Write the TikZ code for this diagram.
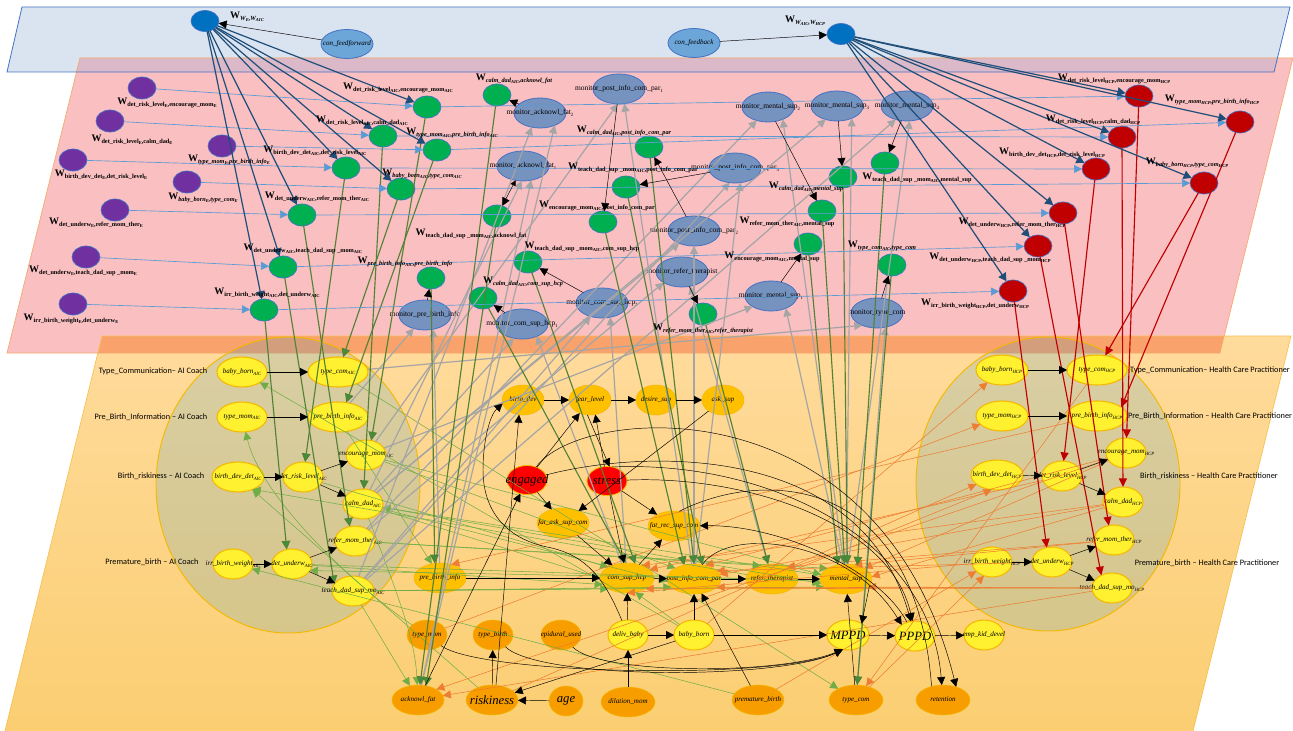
\documentclass[tikz,border=0pt]{standalone}
\usepackage{fontspec}
\setmainfont{Liberation Serif}
\newfontfamily\sidefont{Carlito}
\usetikzlibrary{shapes.geometric,arrows.meta}
\definecolor{cBluePl}{HTML}{DAE3F0}
\definecolor{cBlueLn}{HTML}{4472C4}
\definecolor{cRedPl}{HTML}{F9BFC1}
\definecolor{cOverA}{HTML}{DBB9C9}
\definecolor{cOverB}{HTML}{F9A26C}
\definecolor{cPlLn}{HTML}{F4A96A}
\definecolor{cYelLn}{HTML}{F7C04F}
\definecolor{cYTop}{HTML}{FFDB9C}
\definecolor{cYBot}{HTML}{FBCE72}
\definecolor{cGold}{HTML}{F5B800}
\definecolor{cBig}{HTML}{0089DC}
\definecolor{cDkBlue}{HTML}{0070C0}
\definecolor{cFeed}{HTML}{6CA5D8}
\definecolor{cPurple}{HTML}{7030A0}
\definecolor{cGreen}{HTML}{00B050}
\definecolor{cRedN}{HTML}{C00000}
\definecolor{cMon}{HTML}{7692BE}
\definecolor{cYel}{HTML}{FFF12F}
\definecolor{cAmb}{HTML}{FFC000}
\definecolor{cOrg}{HTML}{F79D00}
\definecolor{eDkBlue}{HTML}{1F4E79}
\definecolor{eLtBlue}{HTML}{5B9BD5}
\definecolor{eDkGreen}{HTML}{548235}
\definecolor{eTipGreen}{HTML}{3F8F3F}
\definecolor{eGray}{HTML}{A5A5A5}
\definecolor{eThinG}{HTML}{70AD47}
\definecolor{eThinO}{HTML}{ED7D31}
\newcommand\sbs[1]{\raisebox{-0.25ex}{\fontsize{3.4}{4}\selectfont #1}}
\newcommand\WL[1]{{\fontsize{7.5}{8}\selectfont\bfseries W\raisebox{-0.5ex}{\fontsize{4.7}{5}\selectfont #1}}}
\newcommand\WI[1]{{\fontsize{7.5}{8}\selectfont\bfseries W\raisebox{-0.5ex}{\fontsize{4.7}{5}\selectfont\itshape #1}}}
\newcommand\nsb[1]{\raisebox{-0.45ex}{\fontsize{3.6}{4}\selectfont #1}}
\newcommand\nt[2]{\makebox[0pt][c]{\itshape #1\nsb{#2}}}
\newcommand\bigt[1]{\makebox[0pt][c]{\fontsize{9.5}{10}\selectfont\itshape #1}}
\newcommand\mon[2]{\makebox[0pt][c]{\fontsize{5.6}{6}\selectfont #1\nsb{#2}}}
\tikzset{
 ov/.style 2 args={ellipse,inner sep=0pt,outer sep=0pt,minimum width=#1*1.5pt,minimum height=#2*1.5pt,font=\fontsize{5.3}{6}\selectfont},
 nWt/.style={ov={14}{10.5},fill=cDkBlue,draw=cBlueLn,line width=.5pt},
 nFeed/.style={ov={26}{14.5},fill=cFeed,draw=cBlueLn,line width=.6pt},
 nPur/.style={ov={14}{11},fill=cPurple,draw=cBlueLn,line width=.5pt},
 nGrn/.style={ov={14}{11},fill=cGreen,draw=cBlueLn,line width=.5pt},
 nRed/.style={ov={14}{11},fill=cRedN,draw=cBlueLn,line width=.5pt},
 nMon/.style={ov={26}{15},fill=cMon,draw=cBlueLn,line width=.6pt},
 nYel/.style={fill=cYel,draw=cGold,line width=.8pt},
 nAmb/.style={fill=cAmb,draw=cGold,line width=.4pt},
 nOrg/.style={fill=cOrg,draw=cGold,line width=.4pt},
 nHot/.style={fill=red,draw=cGold,line width=.6pt},
 wlab/.style={inner sep=0pt},
 side/.style={inner sep=0pt,font=\sidefont\fontsize{6.2}{7}\selectfont},
 eblack/.style={draw=black,line width=.35pt,-{Triangle[length=6pt,width=6pt,fill=black]}},
 ebothway/.style={draw=black,line width=.35pt,{Triangle[length=4pt,width=4pt,fill=black]}-{Triangle[length=6pt,width=6pt,fill=black]}},
 eblue/.style={draw=eDkBlue,line width=.9pt,-{Triangle[length=6pt,width=6.5pt,fill=eDkBlue]}},
 elight/.style={draw=eLtBlue,line width=.5pt,-{Triangle[length=6pt,width=6pt,fill=eLtBlue]}},
 egreen/.style={draw=eDkGreen,line width=.85pt,-{Triangle[length=6.5pt,width=6.5pt,fill=eTipGreen]}},
 egray/.style={draw=eGray,line width=.9pt,-{Triangle[length=6pt,width=6pt,fill=eGray]}},
 tgreen/.style={draw=eThinG,line width=.4pt,-{Triangle[length=6pt,width=6pt,fill=eThinG]}},
 torange/.style={draw=eThinO,line width=.4pt,-{Triangle[length=6pt,width=6pt,fill=eThinO]}},
 ered/.style={draw=cRedN,line width=.85pt,-{Triangle[length=6.5pt,width=6pt,fill=cRedN]}},
}
\begin{document}
\begin{tikzpicture}[x=0.75pt,y=-0.75pt]
\useasboundingbox (0,0) rectangle (1293,731);
% planes
\fill[cBluePl] (22,7) -- (1290,7) -- (1274,72) -- (7,72) -- cycle;
\fill[cRedPl] (80,58) -- (1293,58) -- (1220,353) -- (7,353) -- cycle;
\fill[cOverA] (80,58) -- (1277,58) -- (1274,72) -- (76,72) -- cycle;
\draw[cPlLn,line width=.5pt] (80,58) -- (1293,58) -- (1220,353) -- (7,353) -- cycle;
\draw[cBlueLn,line width=.6pt] (22,7) -- (1290,7) -- (1274,72) -- (7,72) -- cycle;
\path[top color=cYTop,bottom color=cYBot] (102,336) -- (1291,336) -- (1193,731) -- (5,731) -- cycle;
\fill[cOverB] (102,336) -- (1224,336) -- (1220,353) -- (98,353) -- cycle;
\draw[cYelLn,line width=.5pt] (5,731) -- (102,336) -- (1291,336) -- (1193,731);
\draw[cPlLn,line width=.5pt] (98,353) -- (1220,353) -- (1224,336);
% big ellipses
\filldraw[draw=cGold,line width=.7pt,fill=cBig,fill opacity=.15] (288,485) ellipse [x radius=132,y radius=148];
\filldraw[draw=cGold,line width=.7pt,fill=cBig,fill opacity=.15] (1048,484) ellipse [x radius=132,y radius=147];
% top layer
\node[nWt] (WE) at (205,21) {};
\node[nWt] (WM) at (841,34) {};
\node[nFeed] (CFF) at (347,44) {\nt{con\_feedforward}{}};
\node[nFeed] (CFB) at (694,43) {\nt{con\_feedback}{}};
% purple
\node[nPur] (E1) at (142,88) {};
\node[nPur] (E2) at (110,121) {};
\node[nPur] (E3) at (222,146) {};
\node[nPur] (E4) at (73,160) {};
\node[nPur] (E5) at (187,182) {};
\node[nPur] (E6) at (115,210) {};
\node[nPur] (E7) at (86,257) {};
\node[nPur] (E8) at (73,304) {};
% green
\node[nGrn] (G1) at (427,107) {};
\node[nGrn] (G2) at (383,136) {};
\node[nGrn] (G3) at (437,150) {};
\node[nGrn] (G4) at (346,168) {};
\node[nGrn] (G5) at (401,189) {};
\node[nGrn] (G6) at (302,215) {};
\node[nGrn] (G7) at (283,267) {};
\node[nGrn] (G8) at (264,310) {};
\node[nGrn] (G9) at (431,278) {};
\node[nGrn] (G10) at (497,95) {};
\node[nGrn] (G11) at (497,216) {};
\node[nGrn] (G12) at (483,298) {};
\node[nGrn] (G13) at (528,262) {};
\node[nGrn] (G14) at (649,147) {};
\node[nGrn] (G15) at (626,187) {};
\node[nGrn] (G16) at (603,222) {};
\node[nGrn] (G17) at (703,314) {};
\node[nGrn] (G18) at (808,244) {};
\node[nGrn] (G19) at (822,211) {};
\node[nGrn] (G20) at (843,177) {};
\node[nGrn] (G21) at (885,163) {};
\node[nGrn] (G22) at (892,265) {};
% red
\node[nRed] (R1) at (1139,96) {};
\node[nRed] (R2) at (1240,122) {};
\node[nRed] (R3) at (1122,137) {};
\node[nRed] (R4) at (1096,169) {};
\node[nRed] (R5) at (1204,183) {};
\node[nRed] (R6) at (1063,213) {};
\node[nRed] (R7) at (1038,246) {};
\node[nRed] (R8) at (1013,291) {};
% monitors
\node[nMon] (M1) at (619,89) {\mon{monitor\_post\_info\_com\_par}{1}};
\node[nMon] (M2) at (540,113) {\mon{monitor\_acknowl\_fat}{2}};
\node[nMon] (M3) at (523,166) {\mon{monitor\_acknowl\_fat}{1}};
\node[nMon] (M4) at (735,168) {\mon{monitor\_post\_info\_com\_par}{3}};
\node[nMon] (M5) at (694,231) {\mon{monitor\_post\_info\_com\_par}{2}};
\node[nMon] (M6) at (682,272) {\mon{monitor\_refer\_therapist}{}};
\node[nMon] (M7) at (771,296) {\mon{monitor\_mental\_sup}{1}};
\node[nMon] (M8) at (602,303) {\mon{monitor\_com\_sup\_hcp}{2}};
\node[nMon] (M9) at (522,324) {\mon{monitor\_com\_sup\_hcp}{1}};
\node[nMon] (M10) at (425,315) {\mon{monitor\_pre\_birth\_info}{}};
\node[nMon] (M11) at (768,107) {\mon{monitor\_mental\_sup}{2}};
\node[nMon] (M12) at (837,106) {\mon{monitor\_mental\_sup}{3}};
\node[nMon] (M13) at (907,106) {\mon{monitor\_mental\_sup}{4}};
\node[nMon] (M14) at (877,313) {\mon{monitor\_type\_com}{}};
% AIC cluster
\node[ov={25}{15},nYel] (bbA) at (242,372) {\nt{baby\_born}{AIC}};
\node[ov={30}{15},nYel] (tcA) at (338,372) {\nt{type\_com}{AIC}};
\node[ov={25}{15},nYel] (tmA) at (242,417) {\nt{type\_mom}{AIC}};
\node[ov={30}{15},nYel] (pbA) at (338,417) {\nt{pre\_birth\_info}{AIC}};
\node[ov={20}{15},nYel] (enA) at (366,455) {\nt{encourage\_mom}{AIC}};
\node[ov={26}{15},nYel] (bdA) at (238,477) {\nt{birth\_dev\_det}{AIC}};
\node[ov={20}{15},nYel] (drA) at (303,477) {\nt{det\_risk\_level}{AIC}};
\node[ov={20}{15},nYel] (cdA) at (363,504) {\nt{calm\_dad}{AIC}};
\node[ov={20}{15},nYel] (rmA) at (355,541) {\nt{refer\_mom\_ther}{AIC}};
\node[ov={20}{15},nYel] (ibA) at (233,564) {\nt{irr\_birth\_weight}{AIC}};
\node[ov={20}{15},nYel] (duA) at (292,564) {\nt{det\_underw}{AIC}};
\node[ov={21}{15},nYel] (tdA) at (353,591) {\nt{teach\_dad\_sup\_mo}{AIC}};
% HCP cluster
\node[ov={26}{15},nYel] (bbH) at (1002,370) {\nt{baby\_born}{HCP}};
\node[ov={30}{15},nYel] (tcH) at (1097,370) {\nt{type\_com}{HCP}};
\node[ov={26}{15},nYel] (tmH) at (1002,416) {\nt{type\_mom}{HCP}};
\node[ov={30}{15},nYel] (pbH) at (1097,416) {\nt{pre\_birth\_info}{HCP}};
\node[ov={20}{15},nYel] (enH) at (1126,453) {\nt{encourage\_mom}{HCP}};
\node[ov={26}{15},nYel] (bdH) at (997,475) {\nt{birth\_dev\_det}{HCP}};
\node[ov={20}{15},nYel] (drH) at (1062,476) {\nt{det\_risk\_level}{HCP}};
\node[ov={20}{15},nYel] (cdH) at (1123,502) {\nt{calm\_dad}{HCP}};
\node[ov={20}{15},nYel] (rmH) at (1114,540) {\nt{refer\_mom\_ther}{HCP}};
\node[ov={20}{15},nYel] (ibH) at (992,562) {\nt{irr\_birth\_weight}{HCP}};
\node[ov={20}{15},nYel] (duH) at (1052,562) {\nt{det\_underw}{HCP}};
\node[ov={20}{15},nYel] (tdH) at (1112,588) {\nt{teach\_dad\_sup\_mo}{HCP}};
% domain nodes
\node[ov={26}{15},nAmb] (PBI) at (440,578) {\nt{pre\_birth\_info}{}};
\node[ov={20}{15},nOrg] (TM) at (427,635) {\nt{type\_mom}{}};
\node[ov={26}{15},nOrg] (AF) at (418,700) {\nt{acknowl\_fat}{}};
\node[ov={26}{15},nOrg] (RK) at (492,700) {\bigt{riskiness}};
\node[ov={20}{15},nOrg] (TB) at (493,635) {\nt{type\_birth}{}};
\node[ov={17}{15},nOrg] (AG) at (566,701) {\bigt{age}};
\node[ov={27}{15},nOrg] (DM) at (628,702) {\nt{dilation\_mom}{}};
\node[ov={20}{15},nOrg] (EU) at (561,635) {\nt{epidural\_used}{}};
\node[ov={20}{15},nYel] (DB) at (628,635) {\nt{deliv\_baby}{}};
\node[ov={20}{15},nYel] (BB) at (694,635) {\nt{baby\_born}{}};
\node[ov={21}{15},nYel] (MP) at (848,635) {\bigt{MPPD}};
\node[ov={20}{15},nYel] (PP) at (915,636) {\bigt{PPPD}};
\node[ov={20}{15},nYel] (EK) at (984,635) {\nt{emp\_kid\_devel}{}};
\node[ov={26}{15},nOrg] (PM) at (758,700) {\nt{premature\_birth}{}};
\node[ov={27}{15},nOrg] (TC) at (856,700) {\nt{type\_com}{}};
\node[ov={27}{15},nOrg] (RT) at (943,700) {\nt{retention}{}};
\node[ov={21}{15},nAmb] (BD) at (523,400) {\nt{birth\_dev}{}};
\node[ov={21}{15},nAmb] (FL) at (590,400) {\nt{fear\_level}{}};
\node[ov={20}{15},nAmb] (DS) at (656,400) {\nt{desire\_sup}{}};
\node[ov={21}{15},nAmb] (AS) at (723,400) {\nt{ask\_sup}{}};
\node[ov={20}{14.5},nHot] (EN) at (527,480) {\bigt{engaged}};
\node[ov={20}{14.5},nHot] (ST) at (607,481) {\bigt{stress}};
\node[ov={26}{15},nAmb] (FA) at (563,523) {\nt{fat\_ask\_sup\_com}{}};
\node[ov={26}{15},nAmb] (FR) at (674,526) {\nt{fat\_rec\_sup\_com}{}};
\node[ov={27}{15},nAmb] (CS) at (627,578) {\nt{com\_sup\_hcp}{}};
\node[ov={27}{15},nAmb] (PI) at (694,579) {\nt{post\_info\_com\_par}{}};
\node[ov={26}{15},nAmb] (RF) at (772,579) {\nt{refer\_therapist}{}};
\node[ov={26}{15},nAmb] (MS) at (846,579) {\nt{mental\_sup}{}};
% thin green
\foreach \a/\b in {BB/bbA,RK/bdA,RF/bdA.320,PM/ibA,RF/duA.340,BB/CS.300,
 enA/PI.150,enA/MS.170,cdA/CS.180,cdA/PI.185,cdA/MS.190,rmA/RF.130,rmA/MS.150,tdA/CS.210,tdA/PI.200,tdA/MS.200,
 tdA/AF.120,tcA/TC,drA/CS.150,duA/CS.195,duA/MS.185,MS/cdA.350}
 \draw[tgreen] (\a) -- (\b);
\draw[tgreen] (pbA) -- (PBI.120);
\draw[tgreen] (TM) .. controls (360,590) and (262,500) .. (tmA);
\draw[tgreen] (cdA) .. controls (400,600) and (415,640) .. (AF);
% thin orange
\foreach \a/\b in {enH/PI.50,enH/MS.30,cdH/CS.40,cdH/PI.10,cdH/MS.5,rmH/RF.40,rmH/MS.60,tdH/CS.330,tdH/PI.340,tdH/MS.340,
 tdH/AF.10,tcH/TC,pbH/PBI.50,BB/bbH,TM/tmH,RK/bdH,RF/bdH.250,PM/ibH,TC/ibH.240,duH/PI.20,drH/CS.20,ibH/CS.270,enH/AF.30}
 \draw[torange] (\a) -- (\b);
% gray
\foreach \a/\b in {cdA/M3.265,AF/M3.300,tdA/M2.240,AF/M2.320,enA/M1.265,PI/M1.290,cdA/M5.220,PI/M5.270,tdA/M4.250,PI/M4.290,
 tdA/M8.230,CS/M8.300,cdA/M9.240,CS/M9.320,enA/M7.210,MS/M7.320,rmA/M11.230,MS/M11.320,cdA/M12.230,MS/M12.320,
 tdA/M13.230,MS/M13.280,rmA/M6.210,RF/M6.300,pbA/M10.230,PBI/M10.300,tcA/M14.220,TC/M14.300}
 \draw[egray] (\a) -- (\b);
% thick green
\foreach \a/\b in {G1/enA.70,G2/cdA,G3/pbA.60,G4/drA,G5/tcA,G6/rmA.110,G7/tdA.160,G8/duA.110,G9/PBI.110,G10/AF,G11/AF.60,
 G12/CS.95,G13/CS.60,G14/PI.90,G15/PI.60,G16/PI.125,G17/RF,G18/MS.120,G19/MS.95,G20/MS.85,G21/MS.50,G22/TC}
 \draw[egreen] (\a) -- (\b);
% red
\foreach \a/\b in {R1/enH,R2/pbH.20,R3/cdH,R4/drH,R5/tcH,R6/rmH.110,R7/tdH.130,R8/duH.110}
 \draw[ered] (\a) -- (\b);
% light blue
\foreach \a/\b in {E1/G1,E2/G2,E3/G3,E4/G4,E5/G5,E6/G6,E7/G7,E8/G8,G1/R1,G2/R3,G3/R2,G4/R4,G5/R5,G6/R6,G7/R7,G8/R8}
 \draw[elight] (\a) -- (\b);
% dark blue
\foreach \b in {G1,G2,G3,G4,G5,G6,G7,G8}
 \draw[eblue] (WE) -- (\b);
\foreach \b in {R1,R2,R3,R4,R5,R6,R7,R8}
 \draw[eblue] (WM) -- (\b);
% black
\foreach \a/\b in {CFF/WE,CFB/WM,
 M1/G16,M2/G10,M4/G15,M5/G14,M6/G17,M7/G18,M8/G13,M9/G12,M10/G9,M11/G19,M12/G20,M13/G21,M14/G22,
 bbA/tcA,tmA/pbA,bdA/drA,drA/enA,drA/cdA,ibA/duA,duA/rmA,duA/tdA,
 bbH/tcH,tmH/pbH,bdH/drH,drH/enH,drH/cdH,ibH/duH,duH/rmH,duH/tdH,
 BD/FL,FL/DS,DS/AS,EN/FL,ST.100/FL.290,FL.260/ST.80,RK.75/BD.255,AF/EN,EN/FA,ST/FR,AS/FA,ST/CS,FA/CS,CS/FR,
 PBI/CS,CS/PI,PI/RF,RF/MS,DB/CS,BB/PI,DB/BB,BB/MP,MP/PP,PP/EK,DM/DB,AG/RK,RK/TB,PM/PI,BB/RK,TC/MS}
 \draw[eblack] (\a) -- (\b);
\draw[ebothway] (M3) -- (G11);
\draw[eblack] (MS.345) -- (MP.40);
\draw[eblack] (EN) .. controls (580,405) and (880,380) .. (RT.45);
\draw[eblack] (EN) .. controls (640,450) and (860,440) .. (PP);
\draw[eblack] (ST) .. controls (740,475) and (890,520) .. (PP.100);
\draw[eblack] (ST.70) .. controls (770,460) and (930,540) .. (RT);
\draw[black,line width=.35pt] (FR.70) .. controls (760,470) and (915,470) .. (RT.130);
\draw[eblack] (PI.60) .. controls (730,525) and (850,540) .. (PP.140);
\draw[eblack] (PP.120) .. controls (880,570) and (780,525) .. (FR);
\draw[eblack] (TB) .. controls (540,680) and (780,680) .. (MP.250);
\draw[eblack] (EU) .. controls (600,675) and (780,675) .. (MP.250);
\draw[eblack] (TM) .. controls (480,675) and (780,680) .. (MP.250);
\draw[eblack] (DB) .. controls (607,585) and (590,555) .. (547,547) .. controls (505,538) and (483,510) .. (483,470) .. controls (483,440) and (490,415) .. (BD.190);
% weight labels
\node[wlab] (lWE) at (247,17) {\WI{W\sbs{E},W\sbs{AIC}}};
\node[wlab] (lWM) at (805,21) {\WI{W\sbs{AIC},W\sbs{HCP}}};
\node[wlab] (lE1) at (167,103) {\WL{det\_risk\_level\sbs{E},encourage\_mom\sbs{E}}};
\node[wlab] (lE2) at (132,140) {\WL{det\_risk\_level\sbs{E},calm\_dad\sbs{E}}};
\node[wlab] (lE3) at (229,160) {\WI{type\_mom\sbs{E},pre\_birth\_info\sbs{E}}};
\node[wlab] (lE4) at (101,175) {\WL{birth\_dev\_det\sbs{E},det\_risk\_level\sbs{E}}};
\node[wlab] (lE5) at (203,198) {\WI{baby\_born\sbs{E},type\_com\sbs{E}}};
\node[wlab] (lE6) at (96,223) {\WL{det\_underw\sbs{E},refer\_mom\_ther\sbs{E}}};
\node[wlab] (lE7) at (83,271) {\WL{det\_underw\sbs{E},teach\_dad\_sup \_mom\sbs{E}}};
\node[wlab] (lE8) at (71,319) {\WL{irr\_birth\_weight\sbs{E},det\_underw\sbs{E}}};
\node[wlab] (lG1) at (398,88) {\WL{det\_risk\_level\sbs{AIC},encourage\_mom\sbs{AIC}}};
\node[wlab] (lG2) at (362,121) {\WL{det\_risk\_level\sbs{AIC},calm\_dad\sbs{AIC}}};
\node[wlab] (lG3) at (452,133) {\WI{type\_mom\sbs{AIC},pre\_birth\_info\sbs{AIC}}};
\node[wlab] (lG4) at (315,151) {\WL{birth\_dev\_det\sbs{AIC},det\_risk\_level\sbs{AIC}}};
\node[wlab] (lG5) at (422,174) {\WI{baby\_born\sbs{AIC},type\_com\sbs{AIC}}};
\node[wlab] (lG6) at (317,197) {\WL{det\_underw\sbs{AIC},refer\_mom\_ther\sbs{AIC}}};
\node[wlab] (lG7) at (303,249) {\WL{det\_underw\sbs{AIC},teach\_dad\_sup \_mom\sbs{AIC}}};
\node[wlab] (lG8) at (267,293) {\WL{irr\_birth\_weight\sbs{AIC},det\_underw\sbs{AIC}}};
\node[wlab] (lG9) at (405,262) {\WI{pre\_birth\_info\sbs{AIC},pre\_birth\_info}};
\node[wlab] (lG10) at (514,79) {\WI{calm\_dad\sbs{AIC},acknowl\_fat}};
\node[wlab] (lG11) at (471,234) {\WL{teach\_dad\_sup \_mom\sbs{AIC},acknowl\_fat}};
\node[wlab] (lG12) at (523,282) {\WI{calm\_dad\sbs{AIC},com\_sup\_hcp}};
\node[wlab] (lG13) at (582,247) {\WL{teach\_dad\_sup \_mom\sbs{AIC},com\_sup\_hcp}};
\node[wlab] (lG14) at (624,131) {\WI{calm\_dad\sbs{AIC},post\_info\_com\_par}};
\node[wlab] (lG15) at (633,168) {\WL{teach\_dad\_sup \_mom\sbs{AIC},post\_info\_com\_par}};
\node[wlab] (lG16) at (597,206) {\WL{encourage\_mom\sbs{AIC},post\_info\_com\_par}};
\node[wlab] (lG17) at (703,329) {\WI{refer\_mom\_ther\sbs{AIC},refer\_therapist}};
\node[wlab] (lG18) at (772,257) {\WL{encourage\_mom\sbs{AIC},mental\_sup}};
\node[wlab] (lG19) at (787,222) {\WL{refer\_mom\_ther\sbs{AIC},mental\_sup}};
\node[wlab] (lG20) at (806,187) {\WI{calm\_dad\sbs{AIC},mental\_sup}};
\node[wlab] (lG21) at (917,178) {\WL{teach\_dad\_sup \_mom\sbs{AIC},mental\_sup}};
\node[wlab] (lG22) at (882,246) {\WI{type\_com\sbs{AIC},type\_com}};
\node[wlab] (lR1) at (1114,79) {\WL{det\_risk\_level\sbs{HCP},encourage\_mom\sbs{HCP}}};
\node[wlab] (lR2) at (1212,100) {\WI{type\_mom\sbs{HCP},pre\_birth\_info\sbs{HCP}}};
\node[wlab] (lR3) at (1093,120) {\WL{det\_risk\_level\sbs{HCP},calm\_dad\sbs{HCP}}};
\node[wlab] (lR4) at (1052,153) {\WL{birth\_dev\_det\sbs{HCP},det\_risk\_level\sbs{HCP}}};
\node[wlab] (lR5) at (1187,163) {\WI{baby\_born\sbs{HCP},type\_com\sbs{HCP}}};
\node[wlab] (lR6) at (1012,223) {\WL{det\_underw\sbs{HCP},refer\_mom\_ther\sbs{HCP}}};
\node[wlab] (lR7) at (990,258) {\WL{det\_underw\sbs{HCP},teach\_dad\_sup \_mom\sbs{HCP}}};
\node[wlab] (lR8) at (975,304) {\WL{irr\_birth\_weight\sbs{HCP},det\_underw\sbs{HCP}}};
% side labels
\node[side] (s1) at (153,371) {Type\_Communication– AI Coach};
\node[side] (s2) at (151,417) {Pre\_Birth\_Information – AI Coach};
\node[side] (s3) at (161,476) {Birth\_riskiness – AI Coach};
\node[side] (s4) at (152,562) {Premature\_birth – AI Coach};
\node[side] (s5) at (1210,370) {Type\_Communication– Health Care Practitioner};
\node[side] (s6) at (1210,416) {Pre\_Birth\_Information – Health Care Practitioner};
\node[side] (s7) at (1209,476) {Birth\_riskiness – Health Care Practitioner};
\node[side] (s8) at (1207,563) {Premature\_birth – Health Care Practitioner};
\end{tikzpicture}
\end{document}
